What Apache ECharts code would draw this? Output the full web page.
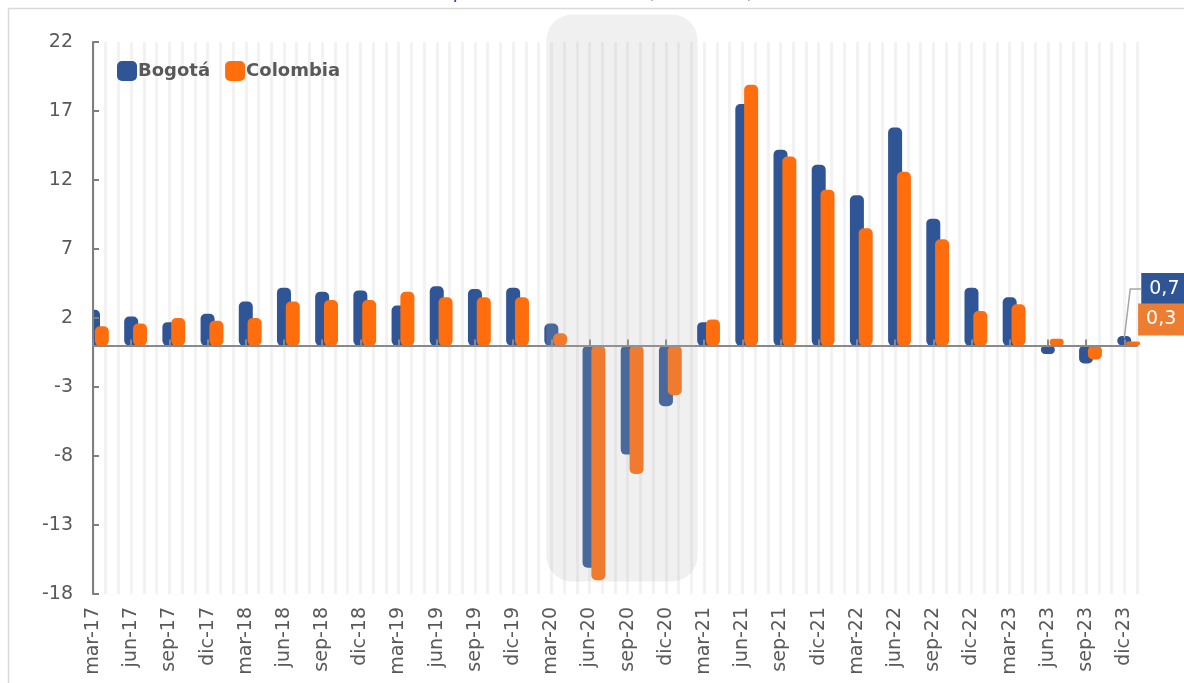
<!DOCTYPE html>
<html>
<head>
<meta charset="utf-8">
<script src="https://cdn.jsdelivr.net/npm/echarts@6/dist/echarts.min.js"></script>
<style>
html,body{margin:0;padding:0;background:#fff}
#chart{width:1184px;height:683px}
</style>
</head>
<body>
<div id="chart"></div>
<script>
// trimestres
var quarters = ['mar-17','jun-17','sep-17','dic-17','mar-18','jun-18','sep-18','dic-18',
  'mar-19','jun-19','sep-19','dic-19','mar-20','jun-20','sep-20','dic-20',
  'mar-21','jun-21','sep-21','dic-21','mar-22','jun-22','sep-22','dic-22',
  'mar-23','jun-23','sep-23','dic-23'];
var bogota = [2.6, 2.1, 1.7, 2.3, 3.2, 4.2, 3.9, 4.0, 2.9, 4.3, 4.1, 4.2,
  1.6, -16.1, -7.9, -4.4, 1.7, 17.5, 14.2, 13.1, 10.9, 15.8, 9.2, 4.2, 3.5, -0.6, -1.3, 0.7];
var colombia = [1.4, 1.6, 2.0, 1.8, 2.0, 3.2, 3.3, 3.3, 3.9, 3.5, 3.5, 3.5,
  0.9, -17.0, -9.3, -3.6, 1.9, 18.9, 13.7, 11.3, 8.5, 12.6, 7.7, 2.5, 3.0, 0.5, -1.0, 0.3];
var yMin = -18, yMax = 22, yStep = 5;
// zona sombreada (pandemia), en trimestres
var shadeFrom = 11.87, shadeTo = 15.83, shadeTop = 24, shadeBottom = -17.1;

var FONT = 'DejaVu Sans';
var BLUE = '#2F5597', ORANGE = '#FF6D0D', ORANGE_LBL = '#ED7D31';

// eje mensual: cada trimestre + dos meses vacios, y un mes extra al final
var months = [], bogM = [], colM = [], spacer = [];
quarters.forEach(function (q, i) {
  months.push(q); bogM.push(bogota[i]); colM.push(colombia[i]); spacer.push(null);
  if (i < quarters.length - 1) {
    months.push('_' + i + 'a', '_' + i + 'b');
    bogM.push(null, null); colM.push(null, null); spacer.push(null, null);
  }
});
months.push('_end'); bogM.push(null); colM.push(null); spacer.push(null);
var lastIdx = (quarters.length - 1) * 3;

function fmt(v) { return String(v).replace('.', ','); }

function withLastLabel(arr, bg) {
  return arr.map(function (v, i) {
    if (i !== lastIdx) return v;
    return {
      value: v,
      label: {
        show: true, formatter: function (p) { return fmt(p.value); },
        backgroundColor: bg, color: '#fff', fontSize: 19, fontFamily: FONT,
        padding: [7, 10, 6, 8]
      }
    };
  });
}

var chart = echarts.init(document.getElementById('chart'));
chart.setOption({
  animation: false,
  title: {
    text: 'Crecimiento anual del PIB a precios constantes (variación), 2017 - 2023',
    left: 165, top: -22,
    textStyle: { color: '#7030A0', fontSize: 20, fontWeight: 'normal', fontFamily: FONT }
  },
  legend: {
    data: ['Bogotá', 'Colombia'],
    left: 117, top: 61, padding: 0, icon: 'roundRect', itemWidth: 20, itemHeight: 20, itemGap: 15,
    textStyle: { fontFamily: FONT, fontWeight: 'bold', fontSize: 18, color: '#595959', padding: [0, 0, 0, -4] }
  },
  grid: { left: 93, right: 47, top: 42, bottom: 89, outerBoundsMode: 'none' },
  xAxis: [{
    type: 'category', data: months, boundaryGap: false, position: 'bottom',
    axisLine: { show: false, onZero: false }, axisTick: { show: false },
    axisLabel: { interval: 2, rotate: 90, fontSize: 19, color: '#595959', margin: 13, fontFamily: FONT },
    splitLine: { show: true, interval: 0, lineStyle: { color: '#F2F2F2', width: 3 } }
  }, {
    type: 'category', data: months, boundaryGap: false, position: 'top', z: 3,
    axisLine: { show: true, onZero: true, lineStyle: { color: '#898989', width: 2 } },
    axisTick: { show: true, interval: 2, length: 6, lineStyle: { color: '#898989', width: 2 } },
    axisLabel: { show: false }, splitLine: { show: false }
  }],
  yAxis: {
    type: 'value', min: yMin, max: yMax, interval: yStep, z: 3,
    axisLine: { show: true, lineStyle: { color: '#7F7F7F', width: 2 } },
    axisTick: { show: true, inside: true, length: 6, lineStyle: { color: '#7F7F7F', width: 2 } },
    axisLabel: { fontSize: 19, color: '#595959', margin: 20, fontFamily: FONT },
    splitLine: { show: false }
  },
  series: [{
    name: '_spacer', type: 'bar', data: spacer, barWidth: 14, barGap: '-37%'
  }, {
    name: 'Bogotá', type: 'bar', data: withLastLabel(bogM, BLUE), barWidth: 14, barGap: '-37%',
    itemStyle: { color: BLUE, borderRadius: 5 },
    labelLayout: function (p) {
      if (p.dataIndex !== lastIdx) return {};
      return { x: p.rect.x + p.rect.width + 10, y: p.rect.y - 47, align: 'left', verticalAlign: 'middle' };
    }
  }, {
    name: 'Colombia', type: 'bar', data: withLastLabel(colM, ORANGE_LBL), barWidth: 14, barGap: '-37%',
    itemStyle: { color: ORANGE, borderRadius: 5 },
    labelLayout: function (p) {
      if (p.dataIndex !== lastIdx) return {};
      return { x: p.rect.x + p.rect.width - 2, y: p.rect.y - 22, align: 'left', verticalAlign: 'middle' };
    }
  }]
});

// sombra redondeada, recorte a la izquierda del eje, linea guia y marco
var x0 = chart.convertToPixel({ xAxisIndex: 0 }, 0);
var x1 = chart.convertToPixel({ xAxisIndex: 0 }, months.length - 1);
var perQ = (x1 - x0) / (months.length - 1) * 3;
var sx0 = x0 + shadeFrom * perQ, sx1 = x0 + shadeTo * perQ;
var sy0 = chart.convertToPixel({ yAxisIndex: 0 }, shadeTop);
var sy1 = chart.convertToPixel({ yAxisIndex: 0 }, shadeBottom);
var gTop = chart.convertToPixel({ yAxisIndex: 0 }, yMax);
var gBot = chart.convertToPixel({ yAxisIndex: 0 }, yMin);
var lastPt = chart.convertToPixel({ gridIndex: 0 }, [lastIdx, bogota[bogota.length - 1]]);
chart.setOption({
  graphic: [{
    type: 'rect', z: 2.5, silent: true,
    shape: { x: x0 - 20, y: gTop, width: 20, height: gBot - gTop },
    style: { fill: '#fff' }
  }, {
    type: 'rect', z: 100, silent: true,
    shape: { x: sx0, y: sy0, width: sx1 - sx0, height: sy1 - sy0, r: 26 },
    style: { fill: 'rgba(178,178,178,0.2)' }
  }, {
    type: 'polyline', z: 100, silent: true,
    shape: { points: [[lastPt[0], lastPt[1] + 2], [lastPt[0] + 6, lastPt[1] - 47], [lastPt[0] + 17, lastPt[1] - 47]] },
    style: { stroke: '#A6A6A6', lineWidth: 1.5, fill: null }
  }, {
    type: 'rect', z: 100, silent: true,
    shape: { x: 8.5, y: 8.5, width: 1300, height: 800 },
    style: { fill: 'none', stroke: '#D9D9D9', lineWidth: 1.5 }
  }]
});
</script>
</body>
</html>
